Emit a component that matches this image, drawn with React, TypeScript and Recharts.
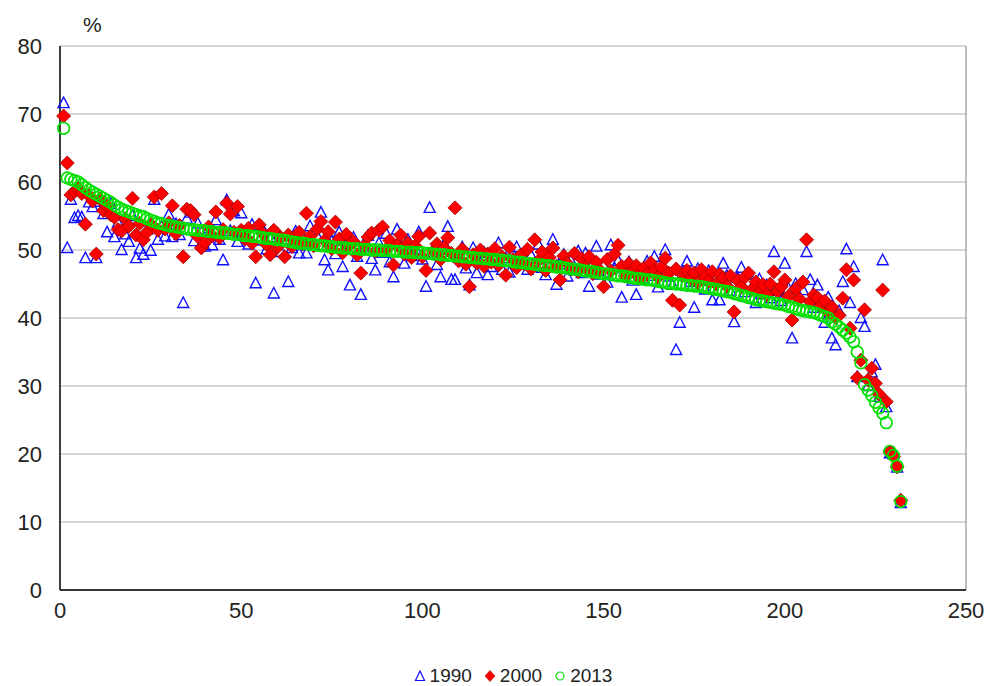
import React from "react";
import {
  ScatterChart,
  Scatter,
  XAxis,
  YAxis,
  CartesianGrid,
  ReferenceLine,
} from "recharts";

// share values (%), countries ranked by 2013 value
const Y1990 = [
  71.6, 50.3, 57.4, 54.7, 55.0, 54.8, 48.8, 57.0, 56.3, 48.8,
  57.1, 55.3, 52.6, 56.8, 51.9, 54.0, 50.0, 52.3, 51.2, 55.0,
  48.8, 50.2, 49.3, 53.0, 49.9, 57.4, 51.5, 53.4, 52.0, 55.2,
  51.9, 53.8, 52.2, 42.2, 54.6, 55.5, 51.3, 53.9, 51.0, 50.5,
  53.2, 50.7, 54.4, 51.5, 48.5, 57.3, 52.8, 55.7, 51.2, 55.4,
  52.3, 50.8, 53.7, 45.1, 51.4, 53.0, 50.1, 51.9, 43.6, 52.4,
  49.7, 51.6, 45.3, 50.3, 52.7, 49.5, 51.8, 49.5, 53.5, 50.7,
  52.0, 55.5, 48.5, 47.0, 51.3, 49.4, 52.6, 47.5, 50.9, 44.8,
  51.8, 49.0, 43.4, 50.5, 52.1, 48.7, 47.0, 51.0, 49.6, 52.4,
  48.2, 46.0, 53.0, 50.6, 48.0, 51.5, 49.1, 50.2, 52.6, 48.6,
  44.6, 56.2, 49.7, 47.8, 46.0, 50.9, 53.4, 45.6, 45.6, 48.9,
  50.4, 47.3, 44.8, 50.3, 46.6, 48.1, 49.6, 46.3, 47.5, 49.0,
  51.0, 47.1, 48.8, 46.7, 49.5, 50.4, 47.9, 48.6, 47.1, 49.2,
  48.0, 50.8, 47.4, 46.3, 48.8, 51.5, 44.9, 47.9, 49.3, 46.1,
  48.4, 47.0, 49.8, 46.6, 49.5, 44.6, 48.0, 50.5, 46.4, 47.8,
  45.2, 50.7, 47.3, 48.4, 43.0, 46.8, 48.2, 45.5, 43.4, 47.0,
  45.8, 48.3, 46.2, 49.0, 44.5, 47.4, 50.0, 46.1, 44.9, 35.3,
  39.3, 46.7, 48.3, 45.3, 41.5, 47.2, 45.7, 44.2, 46.9, 42.6,
  45.8, 42.6, 48.0, 46.2, 44.0, 39.4, 45.9, 47.4, 43.8, 46.4,
  44.6, 42.2, 45.7, 43.5, 44.8, 42.9, 49.7, 44.0, 42.5, 48.0,
  44.3, 37.0, 45.0, 43.2, 44.1, 49.7, 45.6, 41.5, 44.8, 42.0,
  39.3, 43.0, 37.0, 36.0, 41.0, 45.3, 50.1, 42.2, 47.5, 31.3,
  40.0, 38.7, 30.0, 32.0, 33.1, 28.4, 48.5, 26.9, 20.1, 20.0,
  18.0, 12.8,
];

const Y2000 = [
  69.7, 62.8, 58.1, 58.6, 59.0, 58.3, 53.8, 58.0, 57.2, 49.4,
  57.5, 55.8, 56.5, 55.2, 54.8, 53.0, 52.8, 54.6, 53.5, 57.6,
  52.2, 53.9, 51.5, 52.6, 53.8, 57.8, 52.9, 58.3, 53.1, 54.0,
  56.5, 52.4, 53.6, 49.0, 56.0, 55.8, 55.2, 52.0, 50.3, 51.1,
  53.4, 52.1, 55.6, 51.8, 53.0, 56.9, 55.3, 52.6, 56.4, 52.9,
  51.6, 53.2, 51.0, 49.0, 53.7, 52.4, 50.8, 49.3, 52.9, 50.4,
  51.8, 49.0, 52.2, 50.5, 51.3, 52.6, 50.9, 55.4, 52.0, 50.6,
  53.1, 54.2, 51.4, 52.7, 50.2, 54.1, 51.6, 49.6, 52.3, 50.8,
  51.2, 49.3, 46.6, 50.6, 51.9, 52.5, 49.8, 52.9, 53.4, 50.1,
  51.4, 47.8, 50.7, 52.2, 49.4, 51.0, 48.9, 50.6, 52.0, 49.0,
  47.0, 52.5, 49.8, 50.9, 48.6, 50.3, 51.8, 49.5, 56.2, 48.4,
  50.1, 47.9, 44.6, 49.3, 48.1, 50.0, 47.6, 49.4, 48.2, 50.2,
  47.8, 49.0, 46.3, 50.4, 48.6, 47.4, 49.2, 48.0, 50.1, 47.2,
  51.5, 48.4, 49.7, 47.0, 48.9, 50.3, 47.6, 45.6, 49.1, 48.0,
  47.2, 49.5, 46.8, 48.7, 47.4, 49.0, 46.5, 48.2, 47.0, 44.6,
  48.6, 46.9, 49.4, 50.7, 47.6, 46.2, 48.0, 46.9, 47.7, 45.8,
  47.3, 46.4, 48.1, 47.0, 46.0, 47.5, 48.8, 46.6, 42.6, 47.2,
  41.9, 46.3, 47.0, 45.8, 46.6, 45.2, 47.1, 46.0, 45.4, 46.8,
  45.0, 46.4, 45.9, 44.7, 46.2, 40.9, 45.5, 44.6, 46.0, 46.6,
  44.2, 45.3, 43.8, 44.9, 43.4, 45.0, 46.8, 43.9, 44.6, 45.6,
  43.2, 39.7, 44.3, 42.8, 45.3, 51.5, 42.4, 43.4, 43.0, 41.8,
  42.5, 40.8, 41.6, 40.1, 40.4, 42.9, 47.1, 38.5, 45.6, 31.2,
  33.8, 41.2, 30.9, 32.6, 30.4, 28.8, 44.1, 27.7, 20.3, 19.6,
  18.1, 13.2,
];

const Y2013 = [
  67.9, 60.6, 60.4, 60.2, 60.0, 59.6, 59.2, 58.8, 58.5, 58.2,
  57.9, 57.6, 57.3, 57.0, 56.6, 56.3, 56.0, 55.8, 55.6, 55.4,
  55.2, 55.0, 54.9, 54.6, 54.4, 54.2, 54.0, 53.9, 53.7, 53.6,
  53.5, 53.4, 53.3, 53.2, 53.1, 53.0, 53.0, 52.9, 52.9, 52.8,
  52.7, 52.7, 52.6, 52.6, 52.5, 52.5, 52.4, 52.3, 52.3, 52.2,
  52.1, 52.1, 52.0, 52.0, 51.9, 51.8, 51.7, 51.7, 51.6, 51.5,
  51.5, 51.4, 51.3, 51.2, 51.1, 51.0, 51.0, 50.9, 50.8, 50.8,
  50.7, 50.6, 50.6, 50.5, 50.5, 50.4, 50.4, 50.3, 50.3, 50.2,
  50.2, 50.2, 50.1, 50.1, 50.1, 50.0, 50.0, 50.0, 49.9, 49.9,
  49.9, 49.8, 49.8, 49.8, 49.7, 49.7, 49.7, 49.6, 49.6, 49.6,
  49.5, 49.5, 49.4, 49.4, 49.3, 49.3, 49.2, 49.2, 49.1, 49.1,
  49.0, 49.0, 48.9, 48.9, 48.8, 48.8, 48.7, 48.7, 48.6, 48.6,
  48.5, 48.5, 48.4, 48.4, 48.3, 48.2, 48.2, 48.1, 48.0, 48.0,
  47.9, 47.8, 47.8, 47.7, 47.7, 47.6, 47.5, 47.5, 47.4, 47.3,
  47.2, 47.2, 47.1, 47.0, 46.9, 46.9, 46.8, 46.7, 46.6, 46.5,
  46.5, 46.4, 46.3, 46.2, 46.2, 46.1, 46.0, 45.9, 45.8, 45.8,
  45.7, 45.6, 45.6, 45.5, 45.4, 45.3, 45.2, 45.1, 45.1, 45.0,
  45.0, 44.9, 44.8, 44.8, 44.7, 44.7, 44.6, 44.5, 44.4, 44.3,
  44.2, 44.1, 44.0, 43.9, 43.8, 43.6, 43.5, 43.3, 43.2, 43.0,
  42.9, 42.7, 42.6, 42.5, 42.4, 42.3, 42.2, 42.1, 42.0, 41.9,
  41.7, 41.6, 41.4, 41.2, 41.1, 41.0, 40.9, 40.8, 40.6, 40.4,
  40.2, 40.0, 39.4, 39.1, 38.7, 38.2, 37.8, 37.2, 36.5, 35.0,
  33.4, 30.2, 29.4, 28.6, 27.6, 26.8, 26.0, 24.6, 20.4, 19.8,
  18.2, 13.0,
];

const X_TICKS = [0, 50, 100, 150, 200, 250];
const Y_TICKS = [0, 10, 20, 30, 40, 50, 60, 70, 80];
const SERIES_NAMES = ["1990", "2000", "2013"];

const toPoints = (vals: number[]) => vals.map((v, i) => ({ x: i + 1, y: v }));

const FONT = "'Liberation Sans', Arial, sans-serif";

function Triangle(props: any) {
  const { cx, cy } = props;
  if (cx == null || cy == null) return null;
  return (
    <path
      d={`M${cx},${cy - 6} L${cx + 5.5},${cy + 4.5} L${cx - 5.5},${cy + 4.5} Z`}
      fill="none"
      stroke="#1010ff"
      strokeWidth={1.4}
    />
  );
}

function Diamond(props: any) {
  const { cx, cy } = props;
  if (cx == null || cy == null) return null;
  return (
    <path
      d={`M${cx},${cy - 7} L${cx + 7},${cy} L${cx},${cy + 7} L${cx - 7},${cy} Z`}
      fill="#ff0000"
      stroke="#a00000"
      strokeWidth={0.8}
    />
  );
}

function Ring(props: any) {
  const { cx, cy } = props;
  if (cx == null || cy == null) return null;
  return <circle cx={cx} cy={cy} r={5.8} fill="none" stroke="#00e000" strokeWidth={1.7} />;
}

export default function App() {
  return (
    <div style={{ position: "absolute", left: 0, top: 0, width: 986, height: 686, background: "#fff", fontFamily: FONT }}>
      <div style={{ position: "absolute", left: 83, top: 13, fontSize: 21, color: "#222" }}>%</div>
      <ScatterChart width={986} height={686} margin={{ top: 46, right: 20, bottom: 66, left: 0 }}>
        <CartesianGrid vertical={false} stroke="#c8c8c8" strokeWidth={1.5} />
        <XAxis
          type="number"
          dataKey="x"
          domain={[0, 250]}
          ticks={X_TICKS}
          height={30}
          tickSize={0}
          tickMargin={12}
          stroke="#000"
          strokeWidth={1.5}
          tick={{ fontSize: 22, fill: "#222", fontFamily: FONT }}
        />
        <YAxis
          type="number"
          dataKey="y"
          domain={[0, 80]}
          ticks={Y_TICKS}
          width={60}
          tickSize={0}
          tickMargin={18}
          stroke="#000"
          strokeWidth={1.5}
          tick={{ fontSize: 22, fill: "#222", fontFamily: FONT }}
        />
        <ReferenceLine x={250} stroke="#a8a8a8" strokeWidth={1.5} />
        <Scatter name={SERIES_NAMES[0]} data={toPoints(Y1990)} shape={Triangle} isAnimationActive={false} />
        <Scatter name={SERIES_NAMES[1]} data={toPoints(Y2000)} shape={Diamond} isAnimationActive={false} />
        <Scatter name={SERIES_NAMES[2]} data={toPoints(Y2013)} shape={Ring} isAnimationActive={false} />
      </ScatterChart>
      <div
        style={{
          position: "absolute",
          top: 665,
          left: 0,
          width: 986,
          display: "flex",
          justifyContent: "center",
          alignItems: "center",
          fontSize: 19,
          color: "#222",
          paddingLeft: 40,
          boxSizing: "border-box",
        }}
      >
        <svg width={12} height={12} style={{ marginRight: 4 }}>
          <path d="M6,1 L10.5,10.5 L1.5,10.5 Z" fill="none" stroke="#1010ff" strokeWidth={1.2} />
        </svg>
        <span style={{ marginRight: 12 }}>{SERIES_NAMES[0]}</span>
        <svg width={12} height={12} style={{ marginRight: 4 }}>
          <path d="M6,0.5 L11,6 L6,11.5 L1,6 Z" fill="#ff0000" stroke="#a00000" strokeWidth={0.6} />
        </svg>
        <span style={{ marginRight: 12 }}>{SERIES_NAMES[1]}</span>
        <svg width={12} height={12} style={{ marginRight: 4 }}>
          <circle cx={6} cy={6} r={4} fill="none" stroke="#00e000" strokeWidth={1.2} />
        </svg>
        <span>{SERIES_NAMES[2]}</span>
      </div>
    </div>
  );
}
